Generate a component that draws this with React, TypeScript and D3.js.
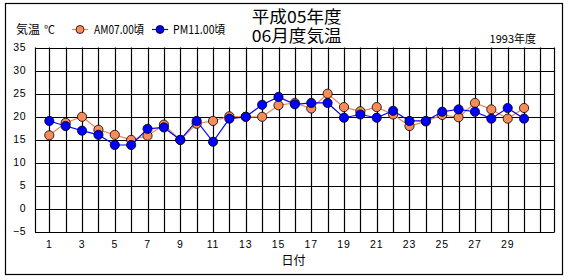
import React from "react";
import * as d3 from "d3";

const days = d3.range(1, 31);
const amTemps = [16, 18.7, 20, 17.2, 16.1, 15, 15.9, 18.3, 15, 18.5, 19.1, 20.1, 20, 20, 22.5, 23, 21.8, 25, 22.1, 21.2, 22.1, 20.5, 18, 19, 20.4, 19.9, 23, 21.6, 19.6, 21.9];
const pmTemps = [19.1, 18, 17, 16.1, 13.9, 13.9, 17.4, 17.7, 15, 19.1, 14.6, 19.6, 20, 22.6, 24.3, 22.7, 23, 23, 19.8, 20.5, 19.8, 21.3, 19.1, 19.1, 21.1, 21.6, 21.1, 19.6, 21.9, 19.6];
const yTicks = [-5, 0, 5, 10, 15, 20, 25, 30, 35];
const xTickDays = d3.range(1, 31, 2);
const gridDays = d3.range(1, 32);
const titleLines = ["平成05年度", "06月度気温"];
const seriesNames = ["AM07.00頃", "PM11.00頃"];

const ORANGE_LINE = "#f4845a";
const ORANGE_FILL = "#f88c58";
const BLUE = "#0000ff";
const FONT = "'Liberation Sans', Arial, sans-serif";
const CJK = "'Noto Sans CJK JP', sans-serif";

export default function App() {
  const x = d3.scaleLinear().domain([1, 29]).range([49.3, 507.7]);
  const y = d3.scaleLinear().domain([-5, 35]).range([232.3, 47.5]);
  const left = 35;
  const right = 554.5;
  const top = y(35);
  const bottom = y(-5);
  const line = d3
    .line<number>()
    .x((_, i) => x(days[i]))
    .y((d) => y(d));

  return (
    <svg width={570} height={280} style={{ position: "absolute", left: 0, top: 0, background: "#fff" }}>
      <rect x={5.5} y={3.5} width={557} height={271} fill="#fff" stroke="#000" strokeWidth={1.2} />
      {/* title */}
      <text textAnchor="middle" fontFamily={CJK} fontSize={16.5} fill="#000">
        {titleLines.map((t, i) => (
          <tspan key={t} x={296.7} y={23 + i * 18.5} textLength={90} lengthAdjust="spacingAndGlyphs">{t}</tspan>
        ))}
      </text>
      <text x={536} y={43} textAnchor="end" fontFamily={CJK} fontSize={11} fill="#000">1993年度</text>
      {/* axis title */}
      <text x={16} y={34} fontFamily={CJK} fontSize={12} fill="#000">気温</text>
      <text x={44} y={34} fontFamily={CJK} fontSize={11} fill="#000">℃</text>
      {/* legend */}
      <line x1={72} x2={88} y1={29.5} y2={29.5} stroke={ORANGE_LINE} strokeWidth={1.2} />
      <circle cx={80} cy={29.5} r={4} fill={ORANGE_FILL} stroke="#000" strokeWidth={0.8} />
      <text x={94} y={34} fontFamily={CJK} fontSize={12} textLength={50} lengthAdjust="spacingAndGlyphs" fill="#000">{seriesNames[0]}</text>
      <line x1={152} x2={168} y1={29.5} y2={29.5} stroke={BLUE} strokeWidth={1.2} />
      <circle cx={160} cy={29.5} r={4} fill={BLUE} stroke="#000" strokeWidth={0.8} />
      <text x={173} y={34} fontFamily={CJK} fontSize={12} textLength={52} lengthAdjust="spacingAndGlyphs" fill="#000">{seriesNames[1]}</text>
      {/* grid */}
      {yTicks.map((v) => (
        <line key={"h" + v} x1={left} x2={right} y1={Math.round(y(v)) + 0.5} y2={Math.round(y(v)) + 0.5} stroke="#000" strokeWidth={1.2} />
      ))}
      {gridDays.map((d) => (
        <line key={"v" + d} x1={Math.round(x(d)) + 0.5} x2={Math.round(x(d)) + 0.5} y1={top} y2={bottom} stroke="#000" strokeWidth={1.2} />
      ))}
      <line x1={left + 0.5} x2={left + 0.5} y1={top} y2={bottom} stroke="#000" strokeWidth={1.2} />
      <line x1={right} x2={right} y1={top} y2={bottom} stroke="#000" strokeWidth={1.2} />
      {/* y labels */}
      {yTicks.map((v) => (
        <text key={"yl" + v} x={26.5} y={y(v) + 3} textAnchor="end" fontFamily={FONT} fontSize={10.5} letterSpacing={0.8} fill="#000">{v === -5 ? "−5" : v}</text>
      ))}
      {/* x labels */}
      {xTickDays.map((d) => (
        <text key={"xl" + d} x={x(d)} y={247.5} textAnchor="middle" fontFamily={FONT} fontSize={10.5} letterSpacing={0.8} fill="#000">{d}</text>
      ))}
      <text x={293.5} y={265} textAnchor="middle" fontFamily={CJK} fontSize={12} fill="#000">日付</text>
      {/* AM series */}
      <path d={line(amTemps) || ""} fill="none" stroke={ORANGE_LINE} strokeWidth={1.2} />
      {amTemps.map((v, i) => (
        <circle key={"a" + i} cx={x(days[i])} cy={y(v)} r={4.6} fill={ORANGE_FILL} stroke="#000" strokeWidth={0.8} />
      ))}
      {/* PM series */}
      <path d={line(pmTemps) || ""} fill="none" stroke={BLUE} strokeWidth={1.2} />
      {pmTemps.map((v, i) => (
        <circle key={"p" + i} cx={x(days[i])} cy={y(v)} r={4.6} fill={BLUE} stroke="#000" strokeWidth={0.8} />
      ))}
    </svg>
  );
}
